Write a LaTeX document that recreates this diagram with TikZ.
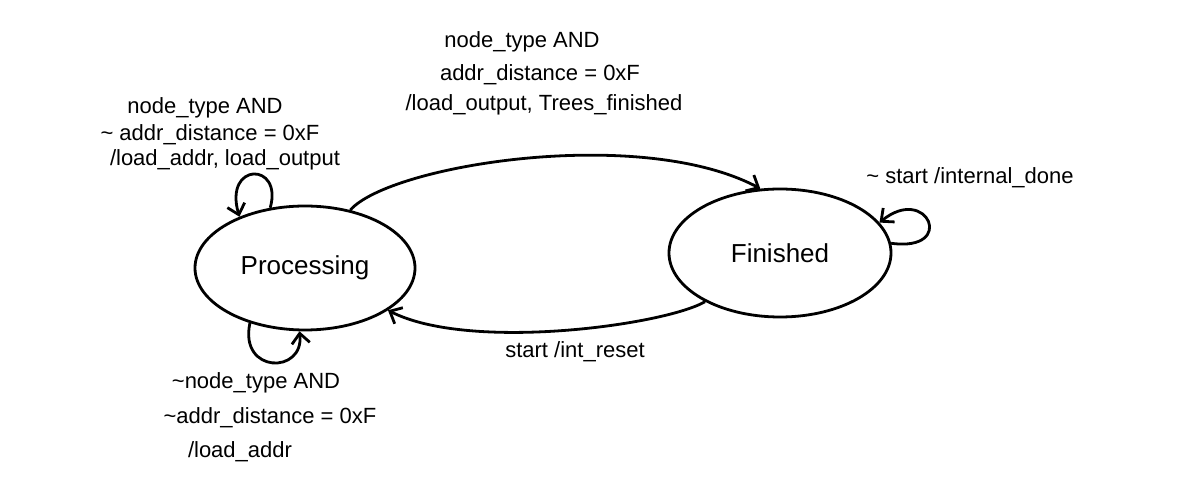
\documentclass[tikz,border=0pt]{standalone}
\usepackage{fontspec}
\setmainfont{Liberation Sans}
\usetikzlibrary{arrows.meta,shapes.geometric}
\begin{document}
\begin{tikzpicture}[x=0.5pt,y=0.5pt,
  state/.style={draw,ellipse,line width=1.4pt,inner sep=0pt,font=\fontsize{13}{15}\selectfont},
  edge/.style={line width=1.4pt,-{Straight Barb[length=5pt,width=9pt,line width=1.4pt]}},
  lab/.style={font=\fontsize{11}{13}\selectfont,inner sep=1pt}]
\useasboundingbox (0,0) rectangle (1200,503);
\node[state,minimum width=110pt,minimum height=62pt] (P) at (305,235) {Processing};
\node[state,minimum width=111pt,minimum height=64pt] (F) at (780,250) {Finished};
% transitions
\draw[edge] (P.52) .. controls (390,338) and (640,378) .. (F.107);
\draw[edge] (F.213) .. controls (665,178) and (470,151) .. (P.333);
% self loops
\draw[edge] (P.120) .. controls +(13,46) and +(-16,55) .. (P.142);
\draw[edge] (P.225) .. controls +(-11,-51) and +(5,-43) .. (P.265);
\draw[edge] (F.5) .. controls +(66,-9) and +(48,39) .. (F.17);
% labels
\node[lab] (l1) at (205,395) {node\_type AND};
\node[lab] (l2) at (210,368) {\textasciitilde{} addr\_distance = 0xF};
\node[lab] (l3) at (225,343) {/load\_addr, load\_output};
\node[lab] (t1) at (522,461) {node\_type AND};
\node[lab] (t2) at (540,428) {addr\_distance = 0xF};
\node[lab] (t3) at (544,398) {/load\_output, Trees\_finished};
\node[lab] (r1) at (970,325) {\textasciitilde{} start /internal\_done};
\node[lab] (s1) at (575,151) {start /int\_reset};
\node[lab] (b1) at (256,120) {\textasciitilde node\_type AND};
\node[lab] (b2) at (270,85) {\textasciitilde addr\_distance = 0xF};
\node[lab] (b3) at (240,51) {/load\_addr};
\end{tikzpicture}
\end{document}
